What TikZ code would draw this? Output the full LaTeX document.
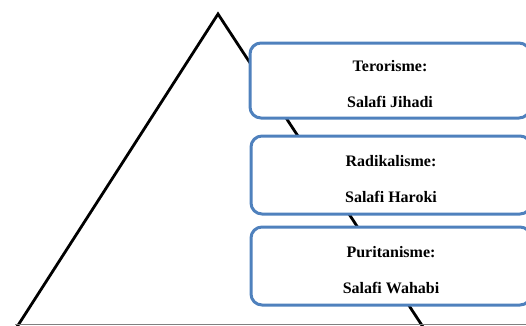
\documentclass[tikz,border=0pt]{standalone}
\usepackage{fontspec}
\setmainfont{Liberation Serif}
\usepackage{xcolor}
\usetikzlibrary{positioning}
\definecolor{kotakbiru}{RGB}{79,129,189}
\newcommand{\turun}{\rule{0pt}{19pt}}
\tikzset{
  kotak/.style={draw=kotakbiru, line width=3pt, rounded corners=11pt, fill=white, align=center, minimum width=280pt, minimum height=#1, inner sep=0pt, font=\fontsize{16}{19}\selectfont\bfseries},
  kotak/.default=76pt,
  sisi/.style={line width=2.8pt, black},
}
\begin{document}
\begin{tikzpicture}[x=1pt, y=-1pt]
  \useasboundingbox (0,0) rectangle (526,325);
  \clip (0,0) rectangle (526,325);
  % segitiga
  \coordinate (puncak) at (218,14);
  \coordinate (kiri) at (15,330);
  \coordinate (kanan) at (425,330);
  \draw[sisi] (kiri) -- (puncak) -- (kanan);
  \draw[gray, line width=1pt] (15,324) -- (526,324);
  % kotak
  \node[kotak=75pt] (teror) at (390,80.5) {\turun Terorisme:\\[17pt]Salafi Jihadi};
  \node[kotak=78pt] (radikal) at (391,175) {\turun Radikalisme:\\[17pt]Salafi Haroki};
  \node[kotak=78pt] (puritan) at (391,266) {\turun Puritanisme:\\[17pt]Salafi Wahabi};
\end{tikzpicture}
\end{document}
